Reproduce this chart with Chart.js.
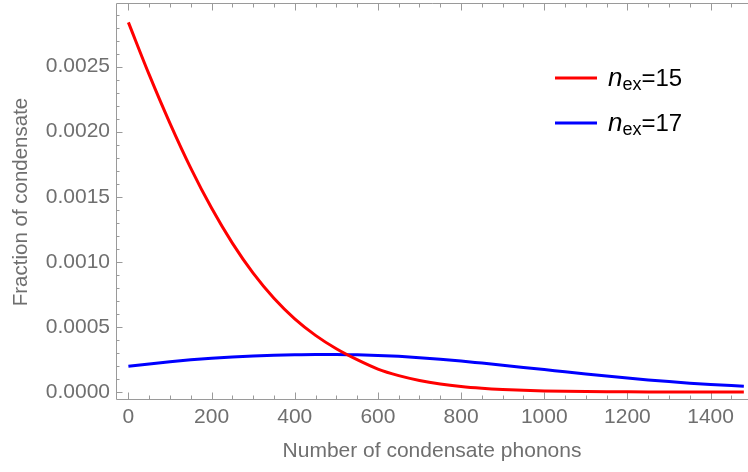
<!DOCTYPE html>
<html><head><meta charset="utf-8">
<script src="https://cdn.jsdelivr.net/npm/chart.js@4"></script>
<style>html,body{margin:0;padding:0;background:#fff}#wrap{width:748px;height:472px}</style>
</head><body><div id="wrap"><canvas id="c" width="748" height="472"></canvas></div>
<script>
// ---- data ----
const phonons = [0,50,100,150,200,250,300,350,400,450,500,550,600,650,700,750,800,850,900,950,1000,1050,1100,1150,1200,1250,1300,1350,1400,1450,1480];
const fracN15 = [0.002840,0.002438,0.002064,0.001720,0.001413,0.001144,0.000913,0.000720,0.000562,0.000435,0.000332,0.000248,0.000176,0.000126,0.0000890,0.0000620,0.0000425,0.0000289,0.0000193,0.0000127,0.0000083,0.0000053,0.0000033,0.0000021,0.0000013,0.0000008,0.0000005,0.0000003,0.0000002,0.0000001,0.0000001];
const fracN17 = [0.000197,0.000215,0.000232,0.000247,0.000259,0.000269,0.000277,0.000283,0.000287,0.000289,0.000289,0.000286,0.000281,0.000274,0.000264,0.000252,0.000238,0.000222,0.000206,0.000189,0.000172,0.000155,0.000138,0.000122,0.000107,0.000093,0.000080,0.000068,0.000058,0.000049,0.000044];
const seriesNex = ['15','17'];
const seriesColors = ['#ff0000','#0000ff'];
const xMajorTicks = [0,200,400,600,800,1000,1200,1400];
const yMajorTicks = [0,0.0005,0.0010,0.0015,0.0020,0.0025];
const xMinorStep = 50;
const yMinorStep = 0.0001;
const xTitle = 'Number of condensate phonons';
const yTitle = 'Fraction of condensate';

const FONT = "'Liberation Sans', Arial, sans-serif";
const GREY = '#6f6f6f';
const FRAME = '#9a9a9a';

const framePlugin = {
  id: 'frame',
  beforeDatasetsDraw(chart) {
    const {ctx, chartArea: a, scales: {x, y}} = chart;
    ctx.save();
    ctx.strokeStyle = FRAME;
    ctx.lineWidth = 1;
    const L = Math.round(a.left) + 0.5, B = Math.round(a.bottom) - 0.5, T = Math.round(a.top) - 0.5;
    ctx.beginPath();
    ctx.moveTo(L, T); ctx.lineTo(a.right + 2, T);
    ctx.moveTo(L, T); ctx.lineTo(L, B);
    ctx.lineTo(a.right + 2, B);
    for (let v = 0; v <= x.max; v += xMinorStep) {
      const major = xMajorTicks.includes(v);
      const len = major ? 7 : 4;
      const px = Math.round(x.getPixelForValue(v)) + 0.5;
      ctx.moveTo(px, B); ctx.lineTo(px, B - len);
      ctx.moveTo(px, T); ctx.lineTo(px, T + len);
    }
    for (let k = 0; k * yMinorStep <= y.max; k++) {
      const v = k * yMinorStep;
      const major = k % 5 === 0;
      const len = major ? 6 : 3;
      const py = Math.round(y.getPixelForValue(v)) + 0.5;
      ctx.moveTo(L, py); ctx.lineTo(L + len, py);
    }
    ctx.stroke();
    ctx.restore();
  },
  afterDraw(chart) {
    const {ctx} = chart;
    ctx.save();
    chart.data.datasets.forEach((ds, i) => {
      const yy = 78 + i * 45;
      ctx.strokeStyle = ds.borderColor;
      ctx.lineWidth = 3;
      ctx.beginPath(); ctx.moveTo(555, yy); ctx.lineTo(597, yy); ctx.stroke();
      ctx.fillStyle = '#000';
      ctx.textBaseline = 'alphabetic';
      let tx = 608;
      const base = yy + 8;
      ctx.font = "italic 26px " + FONT;
      ctx.fillText('n', tx, base); tx += ctx.measureText('n').width;
      ctx.font = "18px " + FONT;
      ctx.fillText('ex', tx, base + 4); tx += ctx.measureText('ex').width;
      ctx.font = "24px " + FONT;
      ctx.fillText('=' + seriesNex[i], tx, base);
    });
    ctx.restore();
  }
};

new Chart(document.getElementById('c'), {
  type: 'line',
  data: {
    datasets: seriesNex.map((n, i) => ({
      label: 'n_ex=' + n,
      data: phonons.map((p, j) => ({x: p, y: (i === 0 ? fracN15 : fracN17)[j]})),
      borderColor: seriesColors[i],
      borderWidth: 3,
      pointRadius: 0,
      fill: false,
      cubicInterpolationMode: 'monotone'
    }))
  },
  options: {
    responsive: false,
    animation: false,
    events: [],
    layout: {padding: {top: 4, right: 0, left: 0, bottom: 0}},
    plugins: {legend: {display: false}, tooltip: {enabled: false}},
    scales: {
      x: {
        type: 'linear', min: -29.8, max: 1490,
        afterFit(s) { s.height = 72; s.paddingLeft = 0; s.paddingRight = 0; },
        afterBuildTicks(s) { s.ticks = xMajorTicks.map(v => ({value: v})); },
        grid: {display: false, drawTicks: false},
        border: {display: false},
        ticks: {font: {family: FONT, size: 21}, color: GREY, padding: 5, maxRotation: 0, autoSkip: false, callback: v => String(v)},
        title: {display: true, text: xTitle, font: {family: FONT, size: 21}, color: GREY, padding: {top: 0, bottom: 8}}
      },
      y: {
        type: 'linear', min: -0.0000615, max: 0.002981,
        afterFit(s) { s.width = 116; s.paddingTop = 0; s.paddingBottom = 0; },
        afterBuildTicks(s) { s.ticks = yMajorTicks.map(v => ({value: v})); },
        grid: {display: false, drawTicks: false},
        border: {display: false},
        ticks: {font: {family: FONT, size: 21}, color: GREY, padding: 6, autoSkip: false, callback: v => v.toFixed(4)},
        title: {display: true, text: yTitle, font: {family: FONT, size: 20.5}, color: GREY, padding: {top: 9, bottom: 0}}
      }
    }
  },
  plugins: [framePlugin]
});
</script>
</body></html>
